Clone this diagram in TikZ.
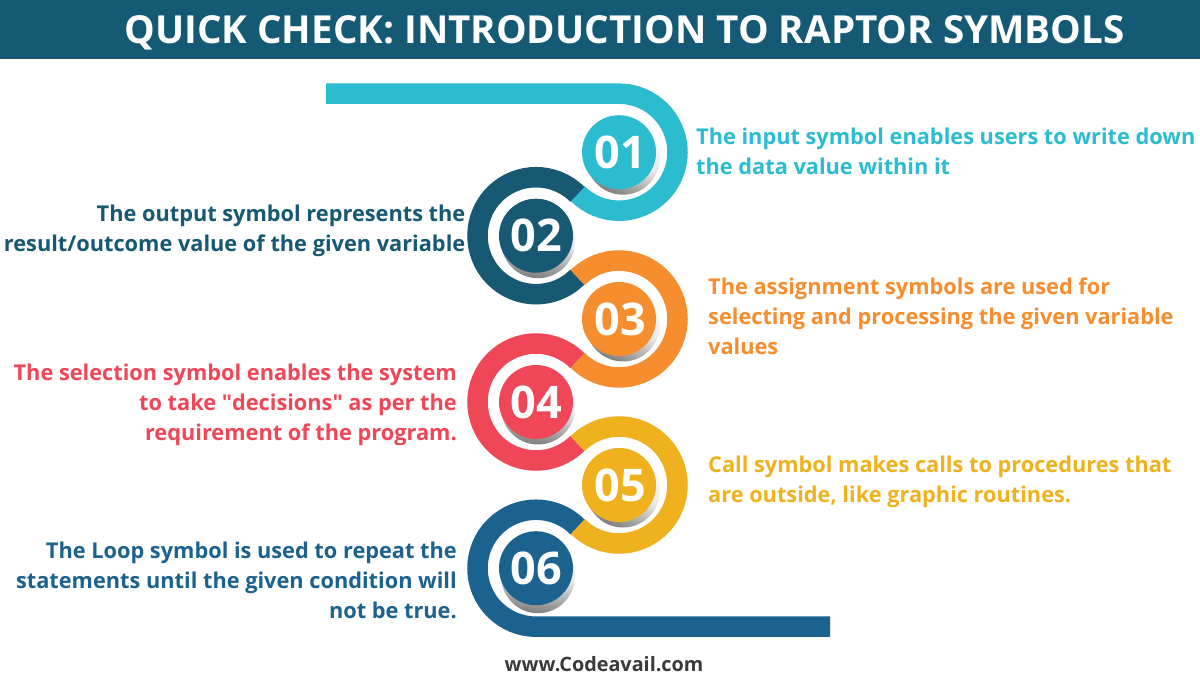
\documentclass[tikz,border=0pt]{standalone}
\usepackage{fontspec}
\setmainfont{Open Sans}[BoldFont={Open Sans Bold}]
\newfontfamily\plainq{Open Sans}[BoldFont={Open Sans Bold}]
\definecolor{cA}{HTML}{2BBCD0}
\definecolor{cB}{HTML}{175873}
\definecolor{cC}{HTML}{F68D2E}
\definecolor{cD}{HTML}{EF4658}
\definecolor{cE}{HTML}{EFB21E}
\definecolor{cF}{HTML}{1C628F}
\definecolor{bandc}{HTML}{155A75}
\definecolor{footc}{HTML}{3A3A3A}
\tikzset{
  ringpath/.style={line width=20.5pt,line cap=butt},
  disc/.style={circle,minimum size=74pt,inner sep=0pt,text=white,font=\bfseries\fontsize{45}{45}\selectfont},
  shadeR/.style={shading=axis,top color=white,bottom color=black!50,middle color=black!9,shading angle=-25},
  shadeL/.style={shading=axis,top color=white,bottom color=black!50,middle color=black!9,shading angle=-8},
  lbl/.style={inner sep=0pt,font=\bfseries\fontsize{21.75}{30}\selectfont},
}
\begin{document}
\begin{tikzpicture}[x=1pt,y=-1pt]
\useasboundingbox (0,0) rectangle (1200,675);
\fill[white] (0,0) rectangle (1200,675);
\node[fill=bandc,minimum width=1200pt,minimum height=59pt,inner sep=0pt,anchor=north west] (band) at (0,0) {};
\node[text=white,font=\bfseries\fontsize{38.6}{40}\selectfont,inner sep=0pt] (title) at (624.5,33) {QUICK CHECK: INTRODUCTION TO RAPTOR SYMBOLS};
% ring centres
\coordinate (c1) at (619,152.2);
\coordinate (c2) at (536,235.7);
\coordinate (c3) at (619,319);
\coordinate (c4) at (536,402);
\coordinate (c5) at (619,485);
\coordinate (c6) at (536,568.2);
\def\Rr{58.5}
\coordinate (b1) at (326,93.7);
\coordinate (b6) at (830,626.7);
% rings (y axis points down, so angles run mirrored)
\draw[ringpath,cA] (b1) -- ++(293,0) arc[start angle=-90,end angle=135,radius=\Rr];
\draw[ringpath,cB] (c2)++(-45:\Rr) arc[start angle=-45,end angle=-315,radius=\Rr];
\draw[ringpath,cC] (c3)++(-135:\Rr) arc[start angle=-135,end angle=135,radius=\Rr];
\draw[ringpath,cD] (c4)++(-45:\Rr) arc[start angle=-45,end angle=-315,radius=\Rr];
\draw[ringpath,cE] (c5)++(-135:\Rr) arc[start angle=-135,end angle=135,radius=\Rr];
\draw[ringpath,cF] (c6)++(-45:\Rr) arc[start angle=-45,end angle=-270,radius=\Rr] -- (b6);
% shadows
\foreach \c in {c1,c3,c5}{ \shade[shadeR] ([shift={(4,5.5)}]\c) circle[radius=37]; }
\foreach \c in {c2,c4}{ \shade[shadeL] ([shift={(2,5.5)}]\c) circle[radius=37]; }
\shade[shadeL] ([shift={(2,8)}]c6) circle[radius=37];
% discs
\node[disc,fill=cA] (d1) at (c1) {\hspace{2pt}01};
\node[disc,fill=cB] (d2) at (c2) {02};
\node[disc,fill=cC] (d3) at (c3) {\hspace{2pt}03};
\node[disc,fill=cD] (d4) at (c4) {04};
\node[disc,fill=cE] (d5) at (c5) {\hspace{2pt}05};
\node[disc,fill=cF] (d6) at (c6) {06};
% labels
\node[lbl,text=cA,align=left,anchor=north west] (t1) at (696,128) {The input symbol enables users to write down\\the data value within it};
\node[lbl,text=cB,align=right,anchor=north east] (t2) at (465.5,205) {The output symbol represents the\\result/outcome value of the given variable};
\node[lbl,text=cC,align=left,anchor=north west] (t3) at (708,278) {The assignment symbols are used for\\selecting and processing the given variable\\values};
\node[lbl,text=cD,align=right,anchor=north east] (t4) at (457,364) {The selection symbol enables the system\\to take {\plainq"}decisions{\plainq"} as per the\\requirement of the program.};
\node[lbl,text=cE,align=left,anchor=north west] (t5) at (708,456) {Call symbol makes calls to procedures that\\are outside, like graphic routines.};
\node[lbl,text=cF,align=right,anchor=north east] (t6) at (457,542) {The Loop symbol is used to repeat the\\statements until the given condition will\\not be true.};
\node[text=footc,font=\bfseries\fontsize{19.8}{22}\selectfont,inner sep=0pt] (foot) at (604,664) {www.Codeavail.com};
\end{tikzpicture}
\end{document}
